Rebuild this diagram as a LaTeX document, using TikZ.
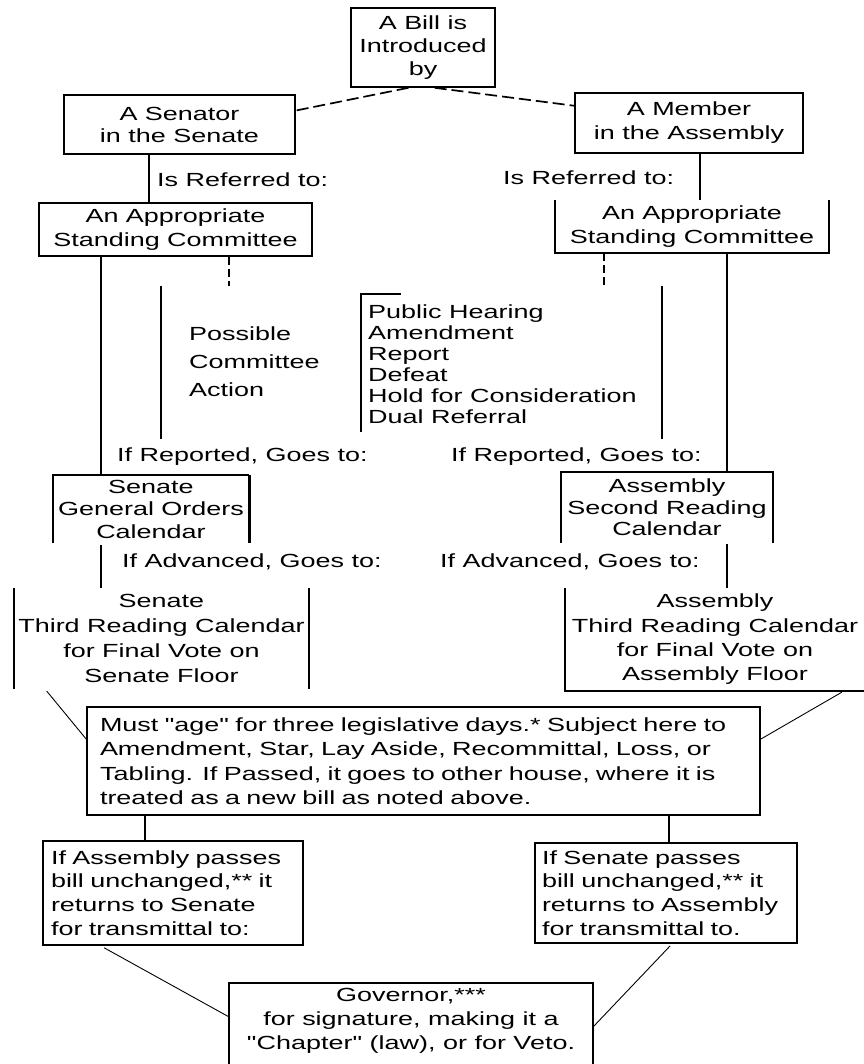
\documentclass[tikz,border=0pt]{standalone}
\usepackage{fontspec}
\usetikzlibrary{calc}
\newfontfamily\pf{Liberation Sans}[FakeStretch=1.42]
\newcommand\ftx[1]{\pf\fontsize{19}{#1}\selectfont}
\begin{document}
\begin{tikzpicture}[x=1pt,y=-1pt,
  every node/.style={inner sep=0pt, font=\ftx{23}},
  frame/.style={line width=1.6pt},
  boxnode/.style={draw, frame, align=center},
  opennode/.style={align=center},
  conn/.style={line width=1.6pt},
  thinconn/.style={line width=0.9pt},
  dashconn/.style={line width=1.7pt, dash pattern=on 12pt off 5pt},
  dashshort/.style={line width=2.4pt, dash pattern=on 8pt off 4pt},
  lbl/.style={anchor=west, align=left}]
\useasboundingbox (0,0) rectangle (863,1064);
\fill[white] (0,0) rectangle (863,1064);

% column coordinates
\coordinate (cA) at (149,0);
\coordinate (cB) at (700,0);
\coordinate (cC) at (101,0);
\coordinate (cD) at (229,0);
\coordinate (cE) at (604,0);
\coordinate (cF) at (727,0);
\coordinate (cG) at (145,0);
\coordinate (cH) at (669,0);

% boxes
\node[boxnode, minimum width=144pt, minimum height=79pt, font=\ftx{23}] (bill) at (423,47.5) {A Bill is\\Introduced\\by};
\node[boxnode, minimum width=231pt, minimum height=59pt, font=\ftx{22}] (senator) at (179.5,124.5) {A Senator\\in the Senate};
\node[boxnode, minimum width=228pt, minimum height=60pt, font=\ftx{24}] (member) at (689,123) {A Member\\in the Assembly};
\node[boxnode, minimum width=273pt, minimum height=53pt, font=\ftx{24}] (comsen) at (175.5,229.5) {An Appropriate\\Standing Committee};
\node[opennode, minimum width=274pt, minimum height=53pt, font=\ftx{24}] (comasm) at (692,226.5) {An Appropriate\\Standing Committee};
\draw[frame] (comasm.north west) -- (comasm.south west) -- (comasm.south east) -- (comasm.north east);

\node[lbl] (refL) at (157,180) {Is Referred to:};
\node[lbl] (refR) at (503,178) {Is Referred to:};

\node[lbl, font=\ftx{28}] (possible) at (189,362) {Possible\\Committee\\Action};
\node[lbl, font=\ftx{21}] (actions) at (368,364) {Public Hearing\\Amendment\\Report\\Defeat\\Hold for Consideration\\Dual Referral};
\draw[conn] (401,294) -- (361,294) -- (361,432);
\draw[conn] (161,286) -- (161,439);
\draw[conn] (662,286) -- (662,439);

\node[lbl] (repL) at (117,457) {If Reported, Goes to:};
\node[lbl] (repR) at (451,457) {If Reported, Goes to:};

\node[opennode, minimum width=196pt, minimum height=68pt, font=\ftx{22.5}] (sgo) at (151,509) {Senate\\General Orders\\Calendar};
\draw[frame] (sgo.south west) -- (sgo.north west) -- (sgo.north east);
\draw[line width=2.6pt] (sgo.north east) -- (sgo.south east);
\node[opennode, minimum width=212pt, minimum height=71pt, font=\ftx{21.5}] (asr) at (667,507.5) {Assembly\\Second Reading\\Calendar};
\draw[frame] (asr.south west) -- (asr.north west) -- (asr.north east) -- (asr.south east);

\node[lbl] (advL) at (122,562) {If Advanced, Goes to:};
\node[lbl] (advR) at (440,562) {If Advanced, Goes to:};

\node[opennode, minimum width=295pt, minimum height=101pt, font=\ftx{25}] (str) at (161.5,638.5) {Senate\\Third Reading Calendar\\for Final Vote on\\Senate Floor};
\draw[frame] (str.north west) -- (str.south west);
\draw[frame] (str.north east) -- (str.south east);
\node[opennode, minimum width=300pt, minimum height=103pt, font=\ftx{24.3}] (atr) at (715,639.5) {Assembly\\Third Reading Calendar\\for Final Vote on\\Assembly Floor};
\draw[frame] (atr.north west) -- (atr.south west) -- (atr.south east);

\node[draw, frame, align=left, text width=647pt, inner xsep=13pt, minimum height=108pt, font=\ftx{24.5}] (big) at (423.5,761) {Must "age" for three legislative days.* Subject here to\\Amendment, Star, Lay Aside, Recommittal, Loss, or\\Tabling. If Passed, it goes to other house, where it is\\treated as a new bill as noted above.};

\node[draw, frame, align=left, text width=244pt, inner xsep=8pt, minimum height=104pt, font=\ftx{23.7}] (ifasm) at (173,893) {If Assembly passes\\bill unchanged,** it\\returns to Senate\\for transmittal to:};
\node[draw, frame, align=left, text width=248pt, inner xsep=7pt, minimum height=100pt, font=\ftx{23.7}] (ifsen) at (666,893) {If Senate passes\\bill unchanged,** it\\returns to Assembly\\for transmittal to.};

\node[opennode, minimum width=364pt, minimum height=76pt, font=\ftx{24}] (gov) at (411,1021) {Governor,***\\for signature, making it a\\"Chapter" (law), or for Veto.};
\draw[frame] ($(gov.south west)+(0,10)$) -- (gov.north west) -- (gov.north east) -- ($(gov.south east)+(0,10)$);

% connectors
\draw[dashconn] ($(bill.south west)!0.40!(bill.south east)$) -- ($(senator.north east)!0.27!(senator.south east)$);
\draw[dashconn] ($(bill.south west)!0.58!(bill.south east)$) -- ($(member.north west)!0.22!(member.south west)$);
\draw[conn] (senator.south -| cA) -- (comsen.north -| cA);
\draw[conn] (member.south -| cB) -- (comasm.north -| cB);
\coordinate (dL) at (229,286);
\coordinate (dR) at (604,286);
\draw[dashshort] (comsen.south -| cD) -- (dL);
\draw[dashshort] (comasm.south -| cE) -- (dR);
\draw[conn] (comsen.south -| cC) -- (sgo.north -| cC);
\draw[conn] (comasm.south -| cF) -- (asr.north -| cF);
\draw[conn] ($(sgo.south -| cC)+(0,2)$) -- (str.north -| cC);
\draw[conn] ($(asr.south -| cF)+(0,1)$) -- (atr.north -| cF);
\draw[thinconn] ($(str.south west)+(33,2)$) -- ($(big.north west)!0.3!(big.south west)$);
\draw[thinconn] ($(atr.south west)+(277,1)$) -- ($(big.north east)!0.3!(big.south east)$);
\draw[conn] (big.south -| cG) -- (ifasm.north -| cG);
\draw[conn] (big.south -| cH) -- (ifsen.north -| cH);
\draw[thinconn] ($(ifasm.south west)+(62,2)$) -- ($(gov.north west)+(0,34)$);
\draw[thinconn] ($(ifsen.south west)+(136,2)$) -- ($(gov.north east)+(0,44)$);
\end{tikzpicture}
\end{document}
